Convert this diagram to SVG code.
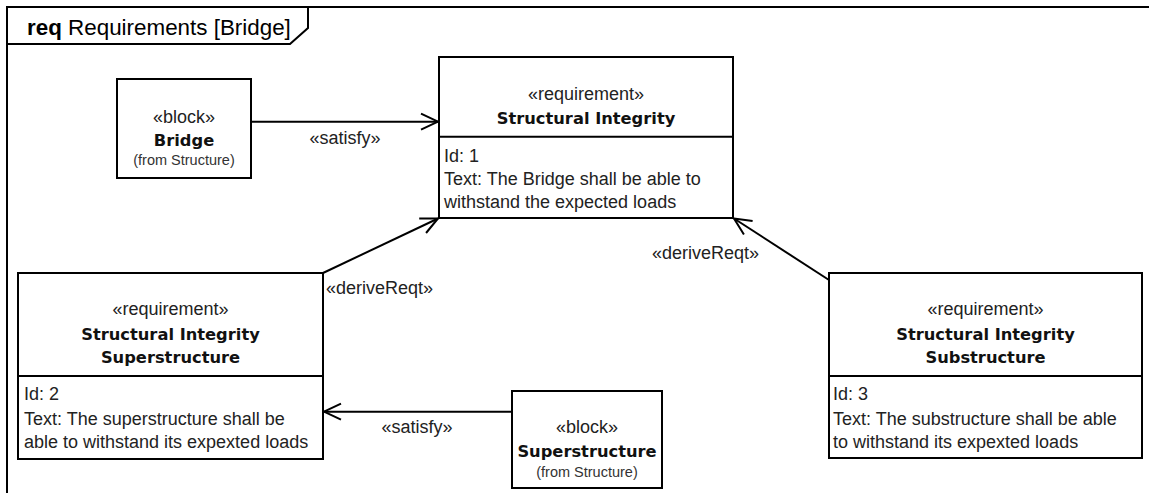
<svg xmlns="http://www.w3.org/2000/svg" width="1149" height="493" viewBox="0 0 1149 493">
<style>
.box{fill:#fff;stroke:#000;stroke-width:2}
.ln{fill:none;stroke:#000;stroke-width:2}
.t{font-family:"Liberation Sans",Arial,sans-serif;font-size:18px;fill:#222}
.c{text-anchor:middle}
.b{font-family:"DejaVu Sans",Verdana,sans-serif;font-weight:bold;font-size:16.3px;fill:#111;text-anchor:middle}
.s{font-family:"Liberation Sans",Arial,sans-serif;font-size:14.5px;fill:#333;text-anchor:middle}
.ttl{font-family:"Liberation Sans",Arial,sans-serif;font-size:22.4px;fill:#000}
</style>
<defs>
<marker id="open" markerUnits="userSpaceOnUse" markerWidth="22" markerHeight="22" viewBox="0 0 22 22" refX="20" refY="11" orient="auto">
<path d="M3,3 L20,11 L3,19" fill="none" stroke="#000" stroke-width="2"/>
</marker>
</defs>
<rect width="1149" height="493" fill="#fff"/>
<g id="frame">
<path class="ln" d="M7,493 V7 H1149"/>
<path class="ln" d="M7,44 H290 L308,28 V7"/>
<text class="ttl" x="27" y="35"><tspan font-weight="bold">req</tspan> Requirements [Bridge]</text>
</g>
<g id="connectors">
<path class="ln" d="M251,121.7 L438,121.7" marker-end="url(#open)"/>
<text class="t c" x="345" y="144">«satisfy»</text>
<path class="ln" d="M323,273 L438,218.5" marker-end="url(#open)"/>
<text class="t" x="326" y="294">«deriveReqt»</text>
<path class="ln" d="M829,280 L734,218.5" marker-end="url(#open)"/>
<text class="t" x="652" y="259">«deriveReqt»</text>
<path class="ln" d="M512,411.7 L324,411.7" marker-end="url(#open)"/>
<text class="t c" x="417" y="433">«satisfy»</text>
</g>
<g id="bridge">
<rect class="box" x="117" y="79" width="134" height="99"/>
<text class="t c" x="184" y="123">«block»</text>
<text class="b" x="184" y="146">Bridge</text>
<text class="s" x="184" y="165">(from Structure)</text>
</g>
<g id="req-structural-integrity">
<rect class="box" x="439" y="57" width="294" height="161"/>
<line class="ln" x1="439" y1="136.7" x2="733" y2="136.7"/>
<text class="t c" x="586" y="100">«requirement»</text>
<text class="b" x="586" y="124">Structural Integrity</text>
<text class="t" x="444" y="162">Id: 1</text>
<text class="t" x="444" y="185">Text: The Bridge shall be able to</text>
<text class="t" x="444" y="208">withstand the expected loads</text>
</g>
<g id="req-superstructure">
<rect class="box" x="18" y="273" width="305" height="186"/>
<line class="ln" x1="18" y1="376" x2="323" y2="376"/>
<text class="t c" x="170.5" y="315">«requirement»</text>
<text class="b" x="170.5" y="340">Structural Integrity</text>
<text class="b" x="170.5" y="363">Superstructure</text>
<text class="t" x="24" y="400">Id: 2</text>
<text class="t" x="24" y="425">Text: The superstructure shall be</text>
<text class="t" x="24" y="448">able to withstand its expexted loads</text>
</g>
<g id="req-substructure">
<rect class="box" x="829" y="273" width="313" height="185"/>
<line class="ln" x1="829" y1="376" x2="1142" y2="376"/>
<text class="t c" x="985.5" y="315">«requirement»</text>
<text class="b" x="985.5" y="340">Structural Integrity</text>
<text class="b" x="985.5" y="363">Substructure</text>
<text class="t" x="833" y="400">Id: 3</text>
<text class="t" x="833" y="425">Text: The substructure shall be able</text>
<text class="t" x="833" y="448">to withstand its expexted loads</text>
</g>
<g id="superstructure">
<rect class="box" x="512" y="391" width="150" height="97"/>
<text class="t c" x="587" y="433">«block»</text>
<text class="b" x="587" y="457">Superstructure</text>
<text class="s" x="587" y="477">(from Structure)</text>
</g>
</svg>
